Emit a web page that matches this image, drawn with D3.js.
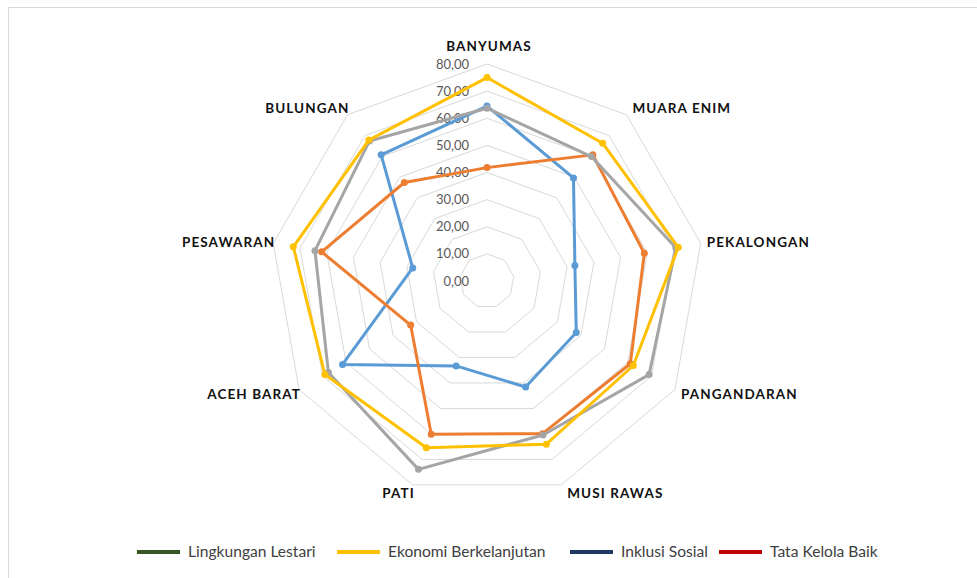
<!DOCTYPE html>
<html>
<head>
<meta charset="utf-8">
<script src="https://cdn.jsdelivr.net/npm/d3@7"></script>
<style>
  html, body { margin: 0; padding: 0; background: #fff; }
  svg { display: block; }
</style>
</head>
<body>
<svg id="chart" width="977" height="578"></svg>
<script>
// ---- data ----
const categories = ["BANYUMAS", "MUARA ENIM", "PEKALONGAN", "PANGANDARAN", "MUSI RAWAS", "PATI", "ACEH BARAT", "PESAWARAN", "BULUNGAN"];
const seriesBlue   = [64.5, 49.6, 32.9, 38.0, 41.6, 33.3, 61.5, 27.8, 60.7];
const seriesOrange = [41.8, 60.7, 58.9, 61.0, 59.9, 60.1, 32.5, 61.9, 47.4];
const seriesGray   = [63.7, 59.9, 70.7, 69.0, 60.4, 73.9, 67.5, 64.4, 67.4];
const seriesYellow = [75.0, 66.3, 71.6, 62.3, 64.0, 65.4, 69.0, 72.5, 67.8];
const tickValues = [0, 10, 20, 30, 40, 50, 60, 70, 80];
const tickLabels = ["0,00", "10,00", "20,00", "30,00", "40,00", "50,00", "60,00", "70,00", "80,00"];
const legendNames = ["Lingkungan Lestari", "Ekonomi Berkelanjutan", "Inklusi Sosial", "Tata Kelola Baik"];

// ---- styles ----
const lineSeries = [
  { values: seriesBlue,   color: "#5B9BD5" },
  { values: seriesOrange, color: "#ED7D31" },
  { values: seriesGray,   color: "#A5A5A5" },
  { values: seriesYellow, color: "#FFC000" }
];
const legendColors = ["#375623", "#FFC000", "#1F3864", "#C00000"];

const svg = d3.select("#chart");
const cx = 487, cy = 281, R = 217;

// chart border
svg.append("rect").attr("x", 8.5).attr("y", 7.5).attr("width", 1000).attr("height", 600)
  .attr("fill", "none").attr("stroke", "#d9d9d9").attr("stroke-width", 1);

const rScale = d3.scaleLinear().domain([0, 80]).range([0, R]);
const aScale = d3.scaleLinear().domain([0, categories.length]).range([0, 2 * Math.PI]);
const pt = (i, v) => {
  const a = aScale(i), r = rScale(v);
  return [cx + r * Math.sin(a), cy - r * Math.cos(a)];
};

const g = svg.append("g");

// grid rings
tickValues.filter(t => t > 0).forEach(t => {
  g.append("polygon")
    .attr("points", categories.map((c, i) => pt(i, t).join(",")).join(" "))
    .attr("fill", "none").attr("stroke", "#d9d9d9").attr("stroke-width", 1);
});

// tick labels
tickValues.forEach((t, k) => {
  g.append("text")
    .attr("x", cx - 18).attr("y", cy - rScale(t))
    .attr("dy", "0.35em")
    .attr("text-anchor", "end")
    .attr("font-family", "Lato, sans-serif").attr("font-size", 13)
    .attr("fill", "#595959")
    .text(tickLabels[k]);
});

// category labels
categories.forEach((c, i) => {
  const a = aScale(i);
  const s = Math.sin(a), co = Math.cos(a);
  const [vx, vy] = pt(i, 80);
  let anchor = "middle", x = vx, y = vy;
  if (s > 0.1) { anchor = "start"; x = vx + 6; }
  else if (s < -0.1) { anchor = "end"; x = vx + 2; }
  y = vy - 9 * co;
  if (anchor === "middle") { y = vy - 18; x = vx + 2; }
  g.append("text")
    .attr("x", x).attr("y", y).attr("dy", "0.36em")
    .attr("text-anchor", anchor)
    .attr("font-family", "Lato, sans-serif").attr("font-weight", "bold").attr("font-size", 13.5)
    .attr("letter-spacing", 1.1)
    .attr("fill", "#111")
    .text(c);
});

// series
const line = d3.line().curve(d3.curveLinearClosed);
lineSeries.forEach(s => {
  const pts = s.values.map((v, i) => pt(i, v));
  g.append("path").attr("d", line(pts))
    .attr("fill", "none").attr("stroke", s.color).attr("stroke-width", 3)
    .attr("stroke-linejoin", "round");
  g.selectAll(null).data(pts).enter().append("circle")
    .attr("cx", d => d[0]).attr("cy", d => d[1]).attr("r", 3.5)
    .attr("fill", s.color);
});

// legend
const legendX = [137, 337, 570, 719];
const ly = 552;
legendNames.forEach((n, i) => {
  svg.append("line").attr("x1", legendX[i]).attr("x2", legendX[i] + 43)
    .attr("y1", ly).attr("y2", ly)
    .attr("stroke", legendColors[i]).attr("stroke-width", 4);
  svg.append("text").attr("x", legendX[i] + 51).attr("y", ly).attr("dy", "0.35em")
    .attr("font-family", "Lato, sans-serif").attr("font-size", 15.6)
    .attr("fill", "#404040")
    .text(n);
});
</script>
</body>
</html>
